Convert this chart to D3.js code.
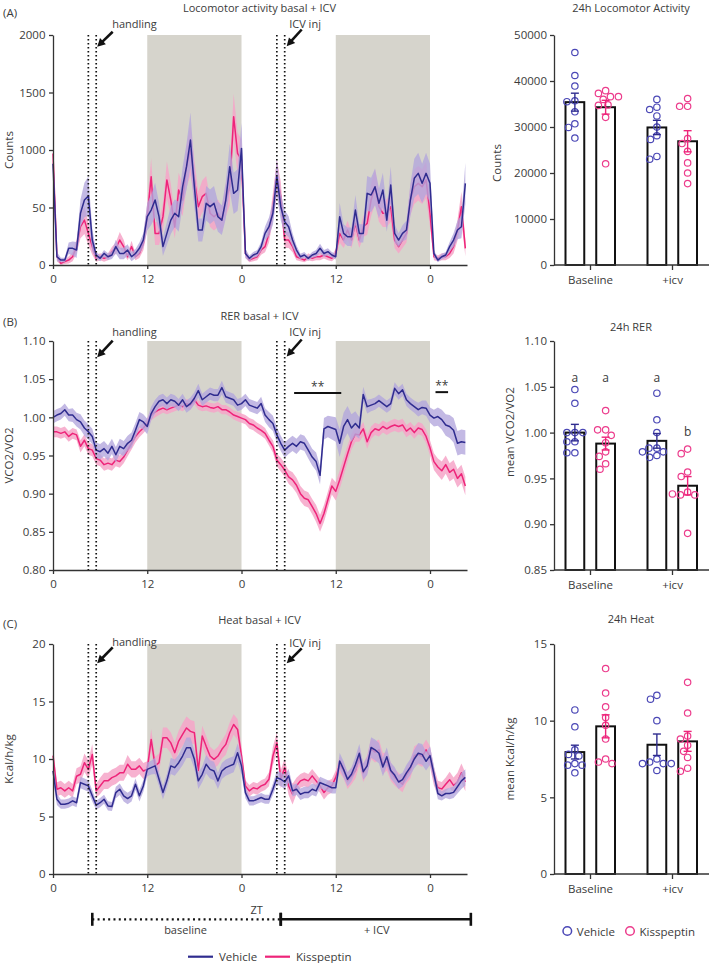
<!DOCTYPE html>
<html><head><meta charset="utf-8">
<script src="https://cdn.jsdelivr.net/npm/d3@7"></script>
<style>
body{margin:0;background:#fff}
svg{display:block}
text{font-family:"Open Sans","Noto Sans",sans-serif;fill:#3b3b3b}
</style></head>
<body><svg id="c" width="709" height="963"></svg>
<script>
// ---------- DATA ----------
// sampling times: every 0.5 h from 0 to 52.5 h
const times = d3.range(0, 52.75, 0.5);
const xTicks = [0, 12, 24, 36, 48];
const xTickLabels = ["0", "12", "0", "12", "0"];
const darkPhases = [[12, 24], [36, 48]];
const eventTimes = [4.5, 5.5, 28.5, 29.5];

// Locomotor activity (counts)
const locoTicks = [0, 500, 1000, 1500, 2000];
const locoTickLabels = ["0", "50", "1000", "1500", "2000"];
const locoVehicle = [880,72,43,43,145,145,130,450,565,600, 217,87,58,101,72,87,160,100,100,130,
 72,100,145,217,420,478,565,420,160,275, 390,450,420,680,855,1087,680,304,304,536,
 507,536,420,390,565,855,623,652,1014,100, 58,87,101,160,275,333,450,768,507,377,
 333,217,130,72,87,58,87,100,145,100, 116,87,72,420,275,246,246,478,275,275,
 623,609,680,536,652,390,696,275,217,275, 304,565,754,797,710,797,710,100,43,72,
 87,160,217,304,333,710];
const locoVehicleSem = [150,40,20,20,50,60,70,120,150,170, 100,30,25,30,30,35,60,50,50,50,
 40,40,50,60,120,130,150,120,80,100, 120,120,130,170,200,240,180,100,100,150,
 150,150,130,130,160,200,180,180,220,40, 25,25,30,40,60,80,100,160,120,100,
 90,60,40,25,25,20,25,30,40,30, 30,25,25,120,80,80,80,130,80,80,
 150,150,160,130,150,100,160,80,60,70, 80,140,170,180,170,180,170,30,20,25,
 25,40,60,80,100,180];
const locoKiss = [970,72,14,29,43,72,160,333,390,275, 160,58,72,58,72,116,145,217,160,72,
 160,72,100,188,420,768,275,275,420,740, 565,333,652,565,855,1000,740,507,594,623,
 450,420,450,390,565,680,1290,970,913,100, 43,58,72,130,160,275,507,768,594,217,
 217,160,72,58,43,72,58,72,72,87, 72,58,100,275,217,304,217,362,217,333,
 362,565,680,507,450,450,507,217,160,217, 275,565,680,710,680,740,450,72,58,72,
 72,100,160,304,507,145];
const locoKissSem = [200,40,15,20,30,40,60,100,120,100, 70,30,30,30,30,40,50,70,60,30,
 50,30,40,60,120,160,100,100,120,160, 140,100,150,140,180,220,170,130,140,150,
 120,120,120,110,140,160,200,180,180,40, 20,25,30,40,50,80,120,150,130,70,
 70,50,30,25,20,30,25,30,30,30, 30,25,40,80,70,80,70,90,70,90,
 100,140,150,130,120,120,130,70,60,70, 80,130,150,150,150,160,120,30,25,30,
 30,40,60,90,130,70];

// RER (VCO2/VO2)
const rerTicks = [0.80, 0.85, 0.90, 0.95, 1.00, 1.05, 1.10];
const rerTickLabels = ["0.80","0.85","0.90","0.95","1.00","1.05","1.10"];
const rerVehicle = [1.000,1.003,1.005,1.010,1.003,1.003,0.997,0.994,0.986,0.981,
 0.975,0.957,0.955,0.959,0.953,0.962,0.951,0.962,0.959,0.966,
 0.970,0.983,0.997,0.994,0.988,1.005,1.014,1.021,1.023,1.018,
 1.023,1.021,1.016,1.023,1.014,1.018,1.025,1.035,1.023,1.027,
 1.031,1.029,1.029,1.039,1.027,1.025,1.023,1.016,1.018,1.023,
 1.016,1.014,1.012,1.018,1.003,0.997,0.992,0.977,0.966,0.957,
 0.962,0.966,0.962,0.968,0.966,0.957,0.948,0.942,0.924,0.985,
 0.988,0.986,0.984,0.966,0.988,0.997,0.986,0.992,0.986,1.030,
 1.014,1.016,1.018,1.022,1.018,1.014,1.018,1.038,1.031,1.036,
 1.023,1.018,1.014,1.010,1.013,1.012,1.003,0.999,1.001,0.997,
 0.990,0.988,0.983,0.966,0.968,0.967];
const rerVehicleSem = [0.008,0.008,0.008,0.008,0.008,0.009,0.009,0.010,0.010,0.010,
 0.010,0.010,0.010,0.010,0.010,0.010,0.010,0.010,0.010,0.010,
 0.010,0.010,0.010,0.010,0.010,0.009,0.009,0.008,0.008,0.008,
 0.008,0.008,0.008,0.008,0.008,0.008,0.008,0.009,0.008,0.008,
 0.008,0.008,0.008,0.009,0.008,0.008,0.008,0.008,0.008,0.008,
 0.008,0.008,0.008,0.009,0.009,0.010,0.010,0.010,0.010,0.010,
 0.010,0.010,0.010,0.010,0.010,0.011,0.011,0.012,0.012,0.014,
 0.014,0.015,0.016,0.018,0.018,0.018,0.018,0.016,0.014,0.010,
 0.009,0.008,0.008,0.008,0.008,0.008,0.008,0.008,0.008,0.008,
 0.008,0.008,0.008,0.009,0.009,0.010,0.010,0.011,0.012,0.013,
 0.014,0.015,0.016,0.016,0.016,0.016];
const rerKiss = [0.981,0.981,0.979,0.981,0.975,0.979,0.977,0.962,0.970,0.959,
 0.957,0.946,0.944,0.938,0.940,0.938,0.944,0.942,0.948,0.957,
 0.966,0.975,0.981,0.986,0.992,1.003,1.007,1.010,1.012,1.010,
 1.012,1.014,1.016,1.014,1.018,1.016,1.023,1.016,1.014,1.015,
 1.013,1.012,1.014,1.010,1.010,1.007,1.003,1.001,0.999,0.997,
 0.992,0.990,0.986,0.983,0.979,0.970,0.962,0.944,0.938,0.931,
 0.922,0.918,0.911,0.900,0.894,0.892,0.883,0.874,0.861,0.874,
 0.892,0.910,0.903,0.918,0.935,0.952,0.968,0.978,0.977,0.985,
 0.968,0.980,0.985,0.983,0.988,0.985,0.988,0.990,0.988,0.990,
 0.982,0.986,0.980,0.986,0.984,0.975,0.960,0.942,0.935,0.930,
 0.938,0.928,0.932,0.920,0.926,0.910];
const rerKissSem = [0.007,0.007,0.007,0.007,0.007,0.007,0.007,0.008,0.008,0.008,
 0.008,0.008,0.008,0.008,0.008,0.008,0.008,0.008,0.008,0.008,
 0.008,0.008,0.007,0.007,0.007,0.007,0.007,0.007,0.006,0.006,
 0.006,0.006,0.006,0.006,0.006,0.006,0.006,0.006,0.006,0.006,
 0.006,0.006,0.006,0.006,0.006,0.006,0.006,0.006,0.006,0.006,
 0.007,0.007,0.007,0.007,0.007,0.007,0.008,0.008,0.009,0.009,
 0.009,0.010,0.010,0.010,0.010,0.010,0.010,0.011,0.011,0.011,
 0.011,0.011,0.012,0.012,0.012,0.011,0.010,0.010,0.009,0.009,
 0.009,0.008,0.008,0.008,0.008,0.008,0.008,0.008,0.008,0.008,
 0.008,0.008,0.008,0.008,0.008,0.009,0.010,0.011,0.011,0.012,
 0.012,0.012,0.012,0.012,0.012,0.012];

// Heat (kcal/h/kg)
const heatTicks = [0, 5, 10, 15, 20];
const heatTickLabels = ["0", "5", "10", "15", "20"];
const heatVehicle = [8.96,6.5,6.07,6.07,6.16,6.36,6.2,7.95,7.8,7.66,
 6.8,5.98,6.2,6.5,5.92,5.87,7.08,7.37,6.8,6.56,
 6.8,7.8,6.8,7.66,9.1,9.25,9.4,8.24,7.08,8.1,
 9.4,9.25,9.68,10.26,10.98,10.98,9.97,8.1,8.67,9.54,
 9.1,8.96,8.1,8.96,9.25,9.4,9.54,10.55,9.4,7.08,
 6.36,6.36,6.5,6.65,6.5,6.5,7.37,8.38,8.24,8.0,
 8.53,7.23,7.37,6.94,7.08,7.08,7.37,7.23,7.95,7.8,
 7.66,7.5,7.5,9.83,9.1,8.24,8.67,9.5,10.5,8.9,
 9.4,11.0,10.8,10.5,9.3,10.2,9.0,8.6,8.0,8.2,
 8.8,9.3,10.0,10.5,10.4,9.8,10.3,8.7,7.0,6.8,
 7.0,7.0,7.1,7.6,8.1,8.4];
const heatVehicleSem = [0.8,0.5,0.4,0.4,0.4,0.4,0.4,0.5,0.5,0.5,
 0.5,0.4,0.4,0.4,0.4,0.4,0.5,0.5,0.5,0.5,
 0.5,0.5,0.5,0.5,0.6,0.6,0.7,0.6,0.6,0.6,
 0.7,0.7,0.7,0.8,0.9,0.9,0.8,0.7,0.7,0.8,
 0.8,0.8,0.7,0.7,0.7,0.7,0.7,0.8,0.8,0.5,
 0.4,0.4,0.4,0.4,0.4,0.4,0.5,0.6,0.6,0.6,
 0.6,0.5,0.5,0.5,0.5,0.5,0.5,0.5,0.5,0.5,
 0.5,0.5,0.5,0.7,0.7,0.6,0.6,0.7,0.8,0.7,
 0.8,0.9,0.9,0.9,0.8,0.8,0.7,0.7,0.6,0.6,
 0.7,0.7,0.8,0.9,0.9,0.8,0.8,0.7,0.5,0.4,
 0.4,0.5,0.5,0.6,0.7,0.7];
const heatKiss = [10.3,7.37,7.5,7.23,7.5,7.23,8.5,8.67,9.68,9.1,
 10.4,7.23,7.66,8.1,8.1,8.38,8.53,8.8,8.8,9.54,
 9.1,9.1,9.4,8.96,9.1,11.7,9.4,9.68,11.85,11.85,
 11.4,10.55,11.56,12.14,12.7,12.4,12.28,9.0,12.0,11.1,
 10.26,9.97,10.26,10.84,11.27,12.28,13.0,12.57,10.26,7.66,
 7.23,7.5,7.4,7.66,7.8,8.24,10.26,11.4,8.24,9.25,
 7.66,6.94,7.66,8.1,8.24,8.1,8.53,8.1,7.66,7.08,
 7.5,7.66,8.4,9.5,9.0,8.1,8.5,9.0,10.2,8.8,
 9.5,10.9,10.6,10.8,9.6,9.8,8.9,8.4,8.1,7.8,
 8.6,9.1,10.3,10.4,10.2,10.8,10.2,8.5,7.5,7.4,
 7.8,8.2,7.7,8.0,8.8,8.0];
const heatKissSem = [0.9,0.6,0.6,0.6,0.6,0.6,0.7,0.7,0.8,0.8,
 0.9,0.6,0.7,0.7,0.7,0.7,0.7,0.7,0.7,0.8,
 0.7,0.7,0.7,0.7,0.7,0.9,0.8,0.8,0.9,0.9,
 0.9,0.9,0.9,1.0,1.0,1.0,1.0,0.9,0.9,0.9,
 0.8,0.8,0.8,0.8,0.9,0.9,0.9,0.9,0.8,0.5,
 0.5,0.5,0.5,0.5,0.5,0.6,0.8,0.9,0.8,0.8,
 0.8,0.9,0.7,0.6,0.6,0.6,0.6,0.6,0.6,0.6,
 0.6,0.6,0.6,0.7,0.7,0.7,0.7,0.7,0.8,0.8,
 0.8,0.9,0.9,0.9,0.9,0.8,0.8,0.7,0.7,0.7,
 0.7,0.8,0.8,0.9,0.9,0.9,0.9,0.8,0.6,0.6,
 0.6,0.7,0.7,0.8,0.8,0.8];

// 24 h summaries (bar = mean, whisker = SEM, circles = individual animals)
const groups = ["Baseline", "+icv"];
const series = ["Vehicle", "Kisspeptin"];
const locoMeans = [[35400, 34300], [29900, 26900]];
const locoSems = [[1950, 1500], [1550, 2300]];
const locoPoints = [
 [[46200,41200,38900,35700,35500,33300,30700,29900,27600],
  [37900,37300,36600,36600,36000,34800,34700,32100,22000]],
 [[36000,34300,33800,32400,30000,28100,27300,23600,23000],
  [36200,34500,34500,27500,26400,24700,22200,20000,17700]]];
const rerMeans = [[1.000, 0.988], [0.991, 0.942]];
const rerSems = [[0.009, 0.007], [0.008, 0.010]];
const rerPoints = [
 [[1.047,1.032,1.000,1.000,1.000,0.990,0.990,0.978,0.978],
  [1.024,1.003,1.003,0.997,0.989,0.979,0.974,0.966,0.960]],
 [[1.043,1.014,1.000,0.983,0.983,0.979,0.979,0.975,0.973],
  [0.982,0.977,0.957,0.952,0.935,0.932,0.932,0.933,0.890]]];
const rerLetters = [["a", "a"], ["a", "b"]];
const rerLetterLevels = [[1.060, 1.060], [1.060, 1.001]];
const heatMeans = [[7.95, 9.63], [8.43, 8.65]];
const heatSems = [[0.45, 0.75], [0.70, 0.65]];
const heatPoints = [
 [[10.7,9.6,8.1,7.8,7.7,7.2,7.1,7.1,6.6],
  [13.4,11.8,10.9,10.2,9.7,8.8,7.5,7.3,7.2]],
 [[11.65,11.4,10.0,7.5,7.3,7.2,7.2,7.2,6.75],
  [12.5,10.5,9.0,8.8,8.4,8.0,7.6,6.9,6.7]]];

// significance bars on RER time course (hours, value)
const rerSig = [{t0: 30.7, t1: 36.7, v: 1.032, label: "**"}, {t0: 48.7, t1: 50.3, v: 1.033, label: "**"}];
// experimental periods (hours)
const periods = [{name: "baseline", t0: 5, t1: 29, dotted: true}, {name: "+ ICV", t0: 29, t1: 53.2, dotted: false}];

// ---------- STYLE ----------
const AX = "#333", TXT = "#3b3b3b";
const VEH = "#2f2c8f", KIS = "#ee2479", VEHB = "#b2a5dc", KISB = "#f6a4c8";
const VEHP = "#4b48b6", KISP = "#ec3c8c", SHADE = "#d6d4cc";
const colLine = [VEH, KIS], colPt = [VEHP, KISP];
const FT = 11.5, FS = 11;   // tick font, other text

const svg = d3.select("#c");
const x = d3.scaleLinear().domain([0, 52.71]).range([53, 467]);

function styleAxis(sel, fs) {
  sel.attr("font-size", fs).attr("font-family", null);
  sel.selectAll("path,line").attr("stroke", AX).attr("stroke-width", 1.3);
  sel.selectAll("text").attr("fill", TXT);
}
function arrow(g, x1, y1, x2, y2) {
  const dx = x2 - x1, dy = y2 - y1, L = Math.hypot(dx, dy), ux = dx / L, uy = dy / L;
  const hl = 8, hw = 4.2;
  const bx = x2 - ux * hl, by = y2 - uy * hl;
  g.append("line").attr("x1", x1).attr("y1", y1).attr("x2", bx + ux).attr("y2", by + uy)
    .attr("stroke", "#111").attr("stroke-width", 2.6);
  g.append("path").attr("d", `M${x2},${y2}L${bx - uy * hw},${by + ux * hw}L${bx + uy * hw},${by - ux * hw}Z`).attr("fill", "#111");
}

// ---------- LEFT TIME-COURSE PANELS ----------
const leftPanels = [
  {label: "(A)", labelY: 17, title: "Locomotor activity basal + ICV", titleY: 12, ytitle: "Counts",
   top: 35, bottom: 265, domain: [0, 2000], ticks: locoTicks, tickLabels: locoTickLabels,
   veh: locoVehicle, vehSem: locoVehicleSem, kiss: locoKiss, kissSem: locoKissSem,
   ann: {h: [-7.3, -3.3, 11.7], i: [-7.3, -5.5, 11.2]}},
  {label: "(B)", labelY: 325.5, title: "RER basal + ICV", titleY: 319.5, ytitle: "VCO2/VO2",
   top: 341, bottom: 570, domain: [0.80, 1.10], ticks: rerTicks, tickLabels: rerTickLabels,
   veh: rerVehicle, vehSem: rerVehicleSem, kiss: rerKiss, kissSem: rerKissSem, sig: rerSig,
   ann: {h: [-5.3, -0.3, 16.3], i: [-5.3, -1.5, 15.5]}},
  {label: "(C)", labelY: 628, title: "Heat basal + ICV", titleY: 623.5, ytitle: "Kcal/h/kg",
   top: 644, bottom: 874, domain: [0, 20], ticks: heatTicks, tickLabels: heatTickLabels,
   veh: heatVehicle, vehSem: heatVehicleSem, kiss: heatKiss, kissSem: heatKissSem,
   ann: {h: [1.7, 3.3, 19.3], i: [2.7, 4.3, 19.3]}}
];

leftPanels.forEach(p => {
  const g = svg.append("g");
  const y = d3.scaleLinear().domain(p.domain).range([p.bottom, p.top]).clamp(true);
  darkPhases.forEach(([a, b]) => g.append("rect").attr("x", x(a)).attr("y", p.top)
    .attr("width", x(b) - x(a)).attr("height", p.bottom - p.top).attr("fill", SHADE));
  const area = (v, s) => d3.area().x((d, i) => x(times[i])).y0((d, i) => y(v[i] - s[i])).y1((d, i) => y(v[i] + s[i]))(v);
  const line = v => d3.line().x((d, i) => x(times[i])).y(d => y(d))(v);
  g.append("path").attr("d", area(p.kiss, p.kissSem)).attr("fill", KISB).attr("opacity", 0.85);
  g.append("path").attr("d", line(p.kiss)).attr("fill", "none").attr("stroke", KIS).attr("stroke-width", 1.5).attr("stroke-linejoin", "round");
  g.append("path").attr("d", area(p.veh, p.vehSem)).attr("fill", VEHB).attr("opacity", 0.78);
  g.append("path").attr("d", line(p.veh)).attr("fill", "none").attr("stroke", VEH).attr("stroke-width", 1.5).attr("stroke-linejoin", "round");
  eventTimes.forEach(t => g.append("line").attr("x1", x(t)).attr("x2", x(t)).attr("y1", p.top).attr("y2", p.bottom)
    .attr("stroke", "#111").attr("stroke-width", 1.7).attr("stroke-dasharray", "1.6,2.4"));
  // axes
  const ya = g.append("g").attr("transform", `translate(${x.range()[0]},0)`)
    .call(d3.axisLeft(y).tickValues(p.ticks).tickFormat((d, i) => p.tickLabels[i]).tickSize(4).tickPadding(3.5).tickSizeOuter(0));
  styleAxis(ya, FT);
  const xa = g.append("g").attr("transform", `translate(0,${p.bottom})`)
    .call(d3.axisBottom(x).tickValues(xTicks).tickFormat((d, i) => xTickLabels[i]).tickSize(4).tickPadding(5.5).tickSizeOuter(0));
  styleAxis(xa, FT);
  g.append("text").attr("transform", `translate(12.5,${(p.top + p.bottom) / 2}) rotate(-90)`)
    .attr("text-anchor", "middle").attr("font-size", FT).text(p.ytitle);
  g.append("text").attr("x", 259.5).attr("y", p.titleY).attr("text-anchor", "middle").attr("font-size", FS).text(p.title);
  g.append("text").attr("x", 3).attr("y", p.labelY).attr("font-size", FT).text(p.label);
  // handling / ICV annotations
  const hx = x(eventTimes[1]) + 1, ix = x(eventTimes[3]) + 2;
  g.append("text").attr("x", hx + 15).attr("y", p.top + p.ann.h[0]).attr("font-size", FS).text("handling");
  arrow(g, hx + 15.5, p.top + p.ann.h[1], hx, p.top + p.ann.h[2]);
  g.append("text").attr("x", ix + 2.5).attr("y", p.top + p.ann.i[0]).attr("font-size", FS).text("ICV inj");
  arrow(g, ix + 15, p.top + p.ann.i[1], ix, p.top + p.ann.i[2]);
  if (p.sig) p.sig.forEach(s => {
    g.append("line").attr("x1", x(s.t0)).attr("x2", x(s.t1)).attr("y1", y(s.v)).attr("y2", y(s.v))
      .attr("stroke", "#111").attr("stroke-width", 2);
    g.append("text").attr("x", (x(s.t0) + x(s.t1)) / 2).attr("y", y(s.v) - 2).attr("text-anchor", "middle")
      .attr("font-size", 12).text(s.label);
  });
});

// ---------- RIGHT BAR PANELS ----------
const xg = d3.scalePoint().domain(groups).range([590, 672]);
const xs = d3.scaleBand().domain(series).range([-24.5, 25]).paddingInner(0.39);
const rightPanels = [
  {title: "24h Locomotor Activity", titleY: 12, ytitle: "Counts", ytitleX: 501, ytitleY: 163, top: 35, bottom: 265,
   domain: [0, 50000], ticks: [0, 10000, 20000, 30000, 40000, 50000], fmt: d3.format("d"),
   means: locoMeans, sems: locoSems, points: locoPoints},
  {title: "24h RER", titleY: 331, ytitle: "mean VCO2/VO2", ytitleX: 514, ytitleY: 432, top: 341, bottom: 570,
   domain: [0.85, 1.10], ticks: [0.85, 0.90, 0.95, 1.00, 1.05, 1.10], fmt: d3.format(".2f"),
   means: rerMeans, sems: rerSems, points: rerPoints, letters: rerLetters, letterLevels: rerLetterLevels},
  {title: "24h Heat", titleY: 623, ytitle: "mean Kcal/h/kg", ytitleX: 514, ytitleY: 759, top: 644, bottom: 874,
   domain: [0, 15], ticks: [0, 5, 10, 15], fmt: d3.format("d"),
   means: heatMeans, sems: heatSems, points: heatPoints}
];
const R = 3.2;
function swarm(vals, y) {
  const placed = [];
  return vals.map(v => {
    const yy = y(v); let off = 0;
    for (let k = 0; k < 60; k++) {
      const c = k === 0 ? 0 : (k % 2 ? -1 : 1) * Math.ceil(k / 2) * 0.8;
      if (placed.every(q => (q.x - c) ** 2 + (q.y - yy) ** 2 >= (2 * R + 0.9) ** 2)) { off = c; break; }
    }
    placed.push({x: off, y: yy});
    return {x: off, y: yy};
  });
}
rightPanels.forEach(p => {
  const g = svg.append("g");
  const y = d3.scaleLinear().domain(p.domain).range([p.bottom, p.top]);
  groups.forEach((gr, gi) => series.forEach((se, si) => {
    const cx = xg(gr) + xs(se), w = xs.bandwidth(), m = p.means[gi][si], s = p.sems[gi][si];
    g.append("rect").attr("x", cx).attr("y", y(m)).attr("width", w).attr("height", y(p.domain[0]) - y(m))
      .attr("fill", "#fff").attr("stroke", "#111").attr("stroke-width", 2);
    const c = cx + w / 2;
    swarm(p.points[gi][si], y).forEach(pt => g.append("circle").attr("cx", c + pt.x).attr("cy", pt.y).attr("r", R)
      .attr("fill", "none").attr("stroke", colPt[si]).attr("stroke-width", 1.2));
    const eb = g.append("g").attr("stroke", colLine[si]).attr("stroke-width", 1.4);
    eb.append("line").attr("x1", c).attr("x2", c).attr("y1", y(m - s)).attr("y2", y(m + s));
    [m - s, m + s].forEach(v => eb.append("line").attr("x1", c - 4).attr("x2", c + 4).attr("y1", y(v)).attr("y2", y(v)));
    if (p.letters) g.append("text").attr("x", c).attr("y", y(p.letterLevels[gi][si])).attr("dy", "0.35em")
      .attr("text-anchor", "middle").attr("font-size", 12).text(p.letters[gi][si]);
  }));
  const ya = g.append("g").attr("transform", "translate(554,0)")
    .call(d3.axisLeft(y).tickValues(p.ticks).tickFormat(p.fmt).tickSize(4).tickPadding(3).tickSizeOuter(0));
  styleAxis(ya, FT);
  g.append("line").attr("x1", 554).attr("x2", 709).attr("y1", p.bottom).attr("y2", p.bottom).attr("stroke", AX).attr("stroke-width", 1.3);
  const xa = g.append("g").attr("transform", `translate(0,${p.bottom})`)
    .call(d3.axisBottom(xg).tickSize(5).tickPadding(5.5).tickSizeOuter(0));
  xa.select(".domain").remove();
  styleAxis(xa, FT);
  g.append("text").attr("transform", `translate(${p.ytitleX},${p.ytitleY}) rotate(-90)`)
    .attr("text-anchor", "middle").attr("font-size", FT).text(p.ytitle);
  g.append("text").attr("x", 631).attr("y", p.titleY).attr("text-anchor", "middle").attr("font-size", FS).text(p.title);
});

// ---------- BOTTOM ANNOTATIONS & LEGENDS ----------
const bg = svg.append("g");
const by = 919.3;
bg.append("text").attr("x", 256.7).attr("y", 914).attr("text-anchor", "middle").attr("font-size", FS).text("ZT");
periods.forEach(pr => {
  bg.append("line").attr("x1", x(pr.t0)).attr("x2", x(pr.t1)).attr("y1", by).attr("y2", by)
    .attr("stroke", "#111").attr("stroke-width", pr.dotted ? 2.2 : 2.6).attr("stroke-dasharray", pr.dotted ? "2,3.3" : null);
  [pr.t0, pr.t1].forEach(t => bg.append("line").attr("x1", x(t)).attr("x2", x(t)).attr("y1", by - 6.5).attr("y2", by + 6.5)
    .attr("stroke", "#111").attr("stroke-width", 2.6));
  bg.append("text").attr("x", (x(pr.t0) + x(pr.t1)) / 2 + (pr.dotted ? -1 : 1)).attr("y", by + 14.5).attr("text-anchor", "middle")
    .attr("font-size", FS).text(pr.name);
});
series.forEach((s, i) => {
  const lx = 188 + i * 77;
  bg.append("line").attr("x1", lx).attr("x2", lx + 25).attr("y1", 956.7).attr("y2", 956.7).attr("stroke", colLine[i]).attr("stroke-width", 2.2);
  bg.append("text").attr("x", lx + 31).attr("y", 961).attr("font-size", FT).text(s);
});
series.forEach((s, i) => {
  const cx = 567.3 + i * 62.7;
  bg.append("circle").attr("cx", cx).attr("cy", 931).attr("r", 4.3).attr("fill", "none").attr("stroke", colPt[i]).attr("stroke-width", 1.5);
  bg.append("text").attr("x", cx + 9.5).attr("y", 935.5).attr("font-size", FT).text(s);
});
</script></body></html>
